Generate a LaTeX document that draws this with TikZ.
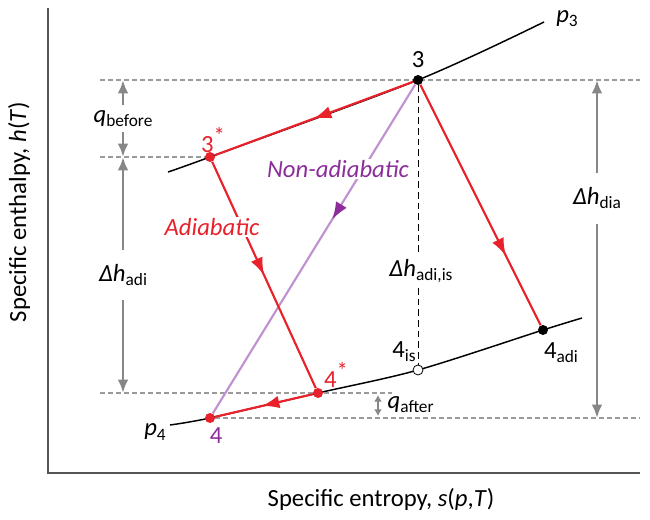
\documentclass[tikz,border=0pt]{standalone}
\usepackage{fontspec}
\setmainfont{Carlito}
\usetikzlibrary{positioning}
\usetikzlibrary{arrows.meta}
\usetikzlibrary{decorations.markings}
\usetikzlibrary{backgrounds}
\definecolor{cyclered}{RGB}{232,33,43}
\definecolor{purpletext}{RGB}{140,45,155}
\definecolor{purpleline}{RGB}{192,145,208}
\definecolor{guidegray}{RGB}{155,155,155}
\definecolor{arrowgray}{RGB}{135,135,135}
\definecolor{axisgray}{RGB}{85,85,85}
\newcommand{\lo}[1]{\raisebox{-0.35ex}{\fontsize{13}{13}\selectfont #1}}
\newcommand{\hi}[1]{\raisebox{0.7ex}{\fontsize{17}{17}\selectfont #1}}

\tikzset{
  lbl/.style={font=\fontsize{18.5}{22}\selectfont, inner sep=1pt, text=black},
  state/.style={circle, inner sep=0pt, minimum size=7.5pt},
  guide/.style={guidegray, line width=0.9pt, dash pattern=on 3.5pt off 2.5pt},
  isobar/.style={black, line width=1.1pt},
  redpath/.style={cyclered, line width=1.6pt},
  dimarrow/.style={arrowgray, line width=2.2pt, {Latex[length=10pt,width=8pt]}-{Latex[length=10pt,width=8pt]}},
  midarrow/.style 2 args={postaction={decorate},
    decoration={markings, mark=at position #1 with {\arrow[#2]{Latex[length=13pt,width=9.5pt]}}}}
}

\begin{document}
\begin{tikzpicture}[x=0.75pt, y=-0.75pt]
    \useasboundingbox (0,0) rectangle (650,520);

    % axes
    \draw[axisgray, line width=1.5pt] (48,8) -- (48,473) -- (640,473);
    \node[lbl, rotate=90] (ylabel) at (19,212) {Specific enthalpy, \textit{h}(\textit{T})};
    \node[lbl] (xlabel) at (381,499) {Specific entropy, \textit{s}(\textit{p},\textit{T})};

    % states
    \node[state, fill=black] (s3) at (418,80) {};
    \node[state, fill=cyclered] (s3s) at (210,157) {};
    \node[state, fill=cyclered] (s4) at (210,418) {};
    \node[state, fill=cyclered] (s4s) at (318,393) {};
    \node[state, fill=white, draw=black, line width=0.6pt] (s4is) at (418,370) {};
    \node[state, fill=black] (s4adi) at (543,330) {};

    \coordinate (leftguide) at (100,0);
    \coordinate (rightguide) at (640,0);
    \coordinate (qend) at (392,0);
    \coordinate (dimleft) at (123,0);
    \coordinate (dimright) at (597,0);
    \coordinate (qx) at (378,0);

    % isobars and guide lines
    \begin{scope}[on background layer]
        \draw[isobar] plot[smooth, tension=0.5] coordinates {(168,172) (s3s.center) (s3.center) (544,22)};
        \draw[isobar] plot[smooth, tension=0.5] coordinates {(170,425) (s4.center) (s4s.center) (s4is.center) (s4adi.center) (582,318)};
        \draw[guide] (s3 -| leftguide) -- (s3 -| rightguide);
        \draw[guide] (s3s -| leftguide) -- (s3s);
        \draw[guide] (s4s -| leftguide) -- (s4s -| qend);
        \draw[guide] (s4) -- (s4 -| rightguide);
        \draw[black, line width=0.7pt, dash pattern=on 5pt off 3pt] (s3) -- (s4is);
    \end{scope}

    % process paths
    \draw[purpleline, line width=1.6pt, midarrow={0.41}{purpletext}] (s3) -- (s4);
    \draw[redpath, midarrow={0.5}{cyclered}] (s3) -- (s3s);
    \draw[redpath, midarrow={0.5}{cyclered}] (s3s) -- (s4s);
    \draw[redpath, midarrow={0.71}{cyclered}] (s3) -- (s4adi);
    \draw[redpath, midarrow={0.52}{cyclered}] (s4s) -- (s4);

    % path labels
    \node[lbl, fill=white, text=purpletext, font=\fontsize{18.5}{22}\selectfont\itshape] (nonadi) at (338,169) {Non-adiabatic};
    \node[lbl, fill=white, text=cyclered, font=\fontsize{18.5}{22}\selectfont\itshape] (adi) at (212,227) {Adiabatic};
    \node[lbl, fill=white, inner ysep=3pt] (dhis) at (421,271) {\textit{Δh}\lo{adi,is}};

    % state labels
    \node[lbl, above=4pt of s3] (l3) {3};
    \node[lbl, text=cyclered] (l3s) at (213,140) {3\hi{*}};
    \node[lbl, text=cyclered] (l4s) at (336,375) {4\hi{*}};
    \node[lbl, text=purpletext] (l4) at (216,436) {4};
    \node[lbl] (l4is) at (404,352) {4\lo{is}};
    \node[lbl] (l4adi) at (561,353) {4\lo{adi}};
    \node[lbl] (lp3) at (567,19) {\textit{p}\lo{3}};
    \node[lbl] (lp4) at (155,432) {\textit{p}\lo{4}};

    % enthalpy differences
    \draw[dimarrow] (s3 -| dimleft) -- (s3s -| dimleft)
        node[lbl, midway, fill=white, inner ysep=4pt] (qbefore) {\textit{q}\lo{before}};
    \draw[dimarrow] (s3s -| dimleft) -- (s4s -| dimleft)
        node[lbl, midway, fill=white, inner ysep=11pt] (dhadi) {\textit{Δh}\lo{adi}};
    \draw[dimarrow] (s3 -| dimright) -- (s4 -| dimright)
        node[lbl, pos=0.35, fill=white, inner ysep=11pt] (dhdia) {\textit{Δh}\lo{dia}};
    \draw[arrowgray, line width=1.5pt, {Latex[length=5pt,width=6pt]}-{Latex[length=5pt,width=6pt]}]
        ([yshift=-1.5pt]s4s -| qx) -- ([yshift=1.5pt]s4 -| qx);
    \node[lbl, anchor=west] (qafter) at (386,405) {\textit{q}\lo{after}};
\end{tikzpicture}
\end{document}
